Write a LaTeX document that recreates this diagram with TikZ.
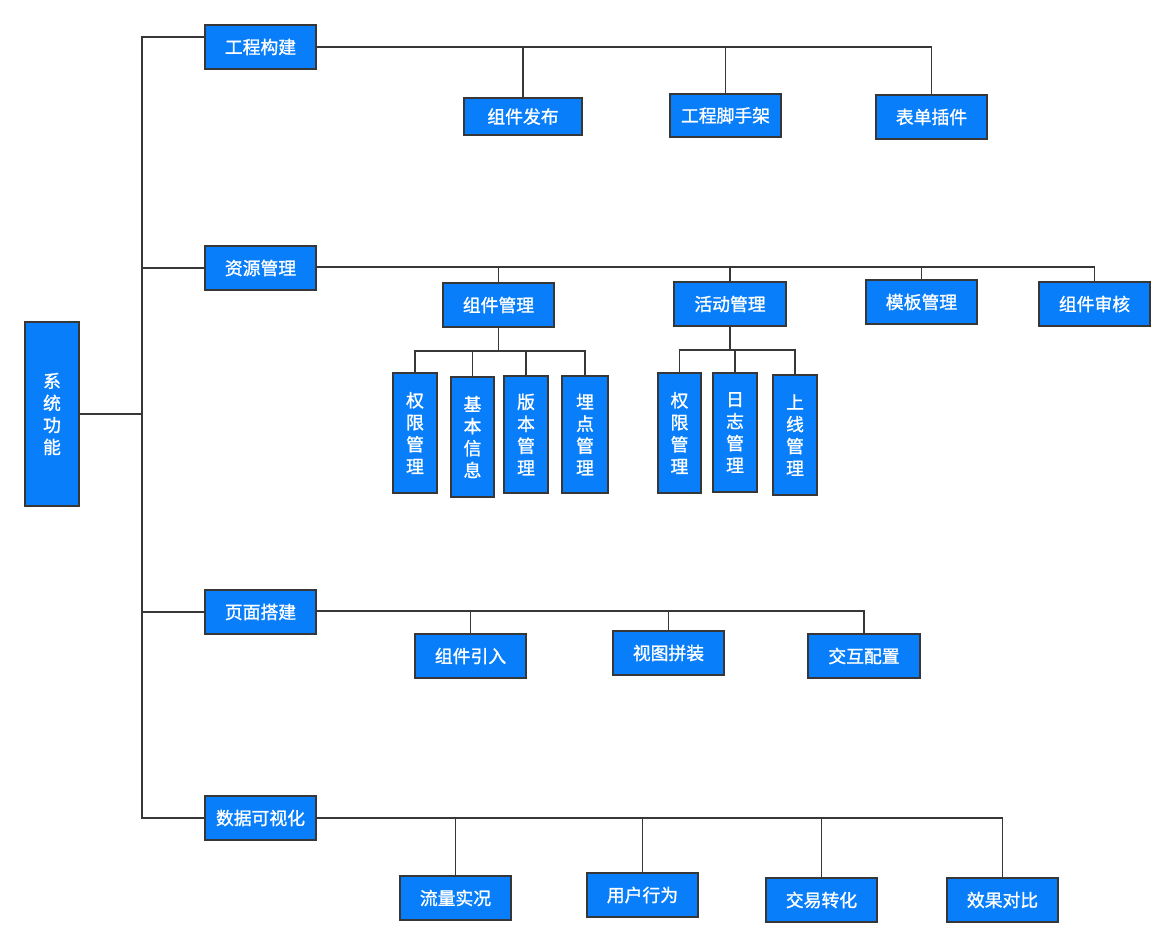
\documentclass[tikz,border=0pt]{standalone}
\usepackage{fontspec}
\newfontfamily\cjk{Noto Sans CJK SC}[FakeBold=1.3]
\definecolor{boxblue}{RGB}{8,126,250}
\definecolor{edge}{RGB}{55,55,55}
\begin{document}
\begin{tikzpicture}[x=1pt,y=-1pt,
  box/.style={draw=edge, line width=1.9pt, fill=boxblue, text=white, inner sep=0pt,
    align=center, font=\cjk\fontsize{17.8}{22}\selectfont},
  hbox/.style={box, minimum width=111pt, minimum height=44pt},
  vbox/.style={box, minimum width=44pt, minimum height=118pt},
  conn/.style={draw=edge, line width=1.8pt}]
\useasboundingbox (0,0) rectangle (1174,947);
\fill[white] (0,0) rectangle (1174,947);
\coordinate (trunkx) at (142,0);

% root
\node[box, minimum width=54pt, minimum height=184pt] (root) at (52,414) {系\\统\\功\\能};

% level 1
\node[hbox] (gcgj) at (260.5,47) {工程构建};
\node[hbox] (zygl) at (260.5,268) {资源管理};
\node[hbox] (ymdj) at (260.5,612) {页面搭建};
\node[hbox] (sjksh) at (260.5,818) {数据可视化};

% 工程构建 children
\node[box, minimum width=118pt, minimum height=37pt] (zjfb) at (523,116.5) {组件发布};
\node[hbox, minimum height=43pt] (gcjsj) at (725.5,115.5) {工程脚手架};
\node[hbox] (bdcj) at (931.5,117) {表单插件};

% 资源管理 children
\node[hbox] (zjgl) at (498.5,305) {组件管理};
\node[hbox, minimum width=112pt] (hdgl) at (730,304) {活动管理};
\node[hbox] (mbgl) at (921.5,302) {模板管理};
\node[hbox] (zjsh) at (1094.5,304) {组件审核};

% 组件管理 children
\node[vbox, minimum height=120pt] (qx1) at (415,433) {权\\限\\管\\理};
\node[vbox, minimum width=43pt, minimum height=120pt] (jbxx) at (472.5,437) {基\\本\\信\\息};
\node[vbox, minimum height=117pt] (bbgl) at (526,434.5) {版\\本\\管\\理};
\node[vbox, minimum width=46pt, minimum height=117pt] (mdgl) at (585,434.5) {埋\\点\\管\\理};

% 活动管理 children
\node[vbox, minimum width=43pt, minimum height=120pt] (qx2) at (679.5,433) {权\\限\\管\\理};
\node[vbox, minimum height=119pt] (rzgl) at (735,432.5) {日\\志\\管\\理};
\node[vbox, minimum height=120pt] (sxgl) at (795,435) {上\\线\\管\\理};

% 页面搭建 children
\node[hbox] (zjyr) at (470.5,656) {组件引入};
\node[hbox] (stpz) at (668.5,653) {视图拼装};
\node[hbox, minimum width=112pt] (jhpz) at (864,656) {交互配置};

% 数据可视化 children
\node[hbox] (llsk) at (455.5,898) {流量实况};
\node[hbox] (yhxw) at (642.5,895) {用户行为};
\node[hbox] (jyzh) at (821.5,900) {交易转化};
\node[hbox] (xgdb) at (1002.5,900) {效果对比};

% junction points
\coordinate (b1) at ([yshift=10pt]gcgj.west);
\coordinate (b2) at ([yshift=1pt]zygl.east);
\coordinate (b3) at ([yshift=1pt]ymdj.east);

% trunk
\draw[conn] (b1) -- (b1 -| trunkx) -- (sjksh.west -| trunkx) -- (sjksh.west);
\draw[conn] (zygl.west) -- (zygl.west -| trunkx);
\draw[conn] (ymdj.west) -- (ymdj.west -| trunkx);
\draw[conn] (root.east) -- (root.east -| trunkx);

% 工程构建 branch
\draw[conn] (gcgj.east) -| (bdcj.north);
\draw[conn] (zjfb.north) -- (zjfb.north |- gcgj.east);
\draw[conn] (gcjsj.north) -- (gcjsj.north |- gcgj.east);

% 资源管理 branch
\draw[conn] (b2) -| (zjsh.north);
\draw[conn] (zjgl.north) -- (zjgl.north |- b2);
\draw[conn] (hdgl.north) -- (hdgl.north |- b2);
\draw[conn] (mbgl.north) -- (mbgl.north |- b2);

% 组件管理 subs
\coordinate (j1) at ([yshift=-23pt]zjgl.south);
\draw[conn] (zjgl.south) -- (j1);
\draw[conn] (qx1.north) |- (j1);
\draw[conn] (jbxx.north) |- (j1);
\draw[conn] (bbgl.north) |- (j1);
\draw[conn] (mdgl.north) |- (j1);

% 活动管理 subs
\coordinate (j2) at ([yshift=-23pt]hdgl.south);
\draw[conn] (hdgl.south) -- (j2);
\draw[conn] (qx2.north) |- (j2);
\draw[conn] (rzgl.north) |- (j2);
\draw[conn] (sxgl.north) |- (j2);

% 页面搭建 branch
\draw[conn] (b3) -| (jhpz.north);
\draw[conn] (zjyr.north) -- (zjyr.north |- b3);
\draw[conn] (stpz.north) -- (stpz.north |- b3);

% 数据可视化 branch
\draw[conn] (sjksh.east) -| (xgdb.north);
\draw[conn] (llsk.north) -- (llsk.north |- sjksh.east);
\draw[conn] (yhxw.north) -- (yhxw.north |- sjksh.east);
\draw[conn] (jyzh.north) -- (jyzh.north |- sjksh.east);
\end{tikzpicture}
\end{document}
